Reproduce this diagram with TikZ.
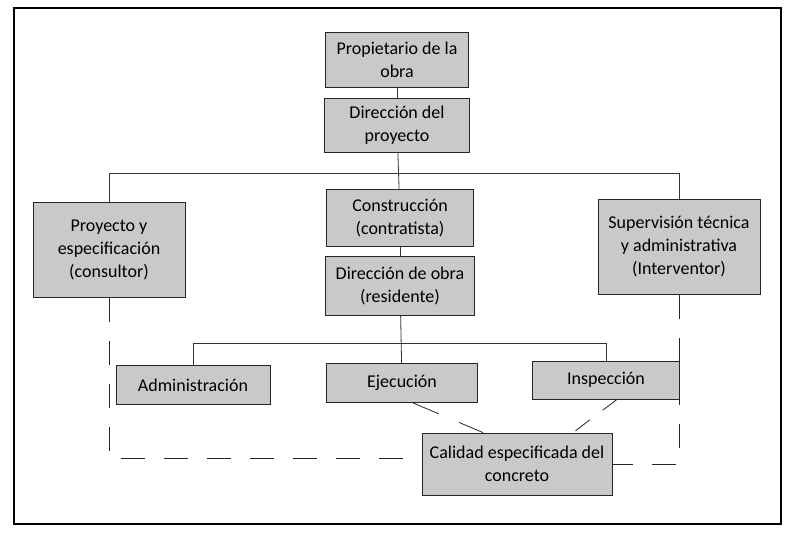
\documentclass[tikz,border=0pt]{standalone}
\usepackage{fontspec}
\setmainfont{Carlito}
\usepackage{tikz}
\colorlet{BoxGray}{gray!42}
\tikzset{
    cargo/.style={draw=black!85, thick, fill=BoxGray, align=center, inner sep=2pt,
        font=\fontsize{18}{23}\selectfont},
    enlace/.style={thick, black!80},
    rayas/.style={thick, black!85, dash pattern=on 24pt off 19pt}
}

\begin{document}
\begin{tikzpicture}[x=1pt,y=-1pt]
                \useasboundingbox (0,0) rectangle (794,533);
                \draw[very thick] (14,8) rectangle (781,524);

                \node[cargo, minimum width=143pt, minimum height=55pt] (prop) at (397,60) {Propietario de la\\obra};
                \node[cargo, minimum width=145pt, minimum height=54pt] (dirp) at (397,125) {Dirección del\\proyecto};
                \node[cargo, minimum width=147pt, minimum height=57pt] (cons) at (400,218) {Construcción\\(contratista)};
                \node[cargo, minimum width=152pt, minimum height=95pt] (proy) at (109,250) {Proyecto y\\especificación\\(consultor)};
                \node[cargo, minimum width=162pt, minimum height=95pt] (superv) at (679,247) {Supervisión técnica\\y administrativa\\(Interventor)};
                \node[cargo, minimum width=149pt, minimum height=59pt] (diro) at (400,286) {Dirección de obra\\(residente)};
                \node[cargo, minimum width=154pt, minimum height=39pt] (admin) at (193,385) {Administración};
                \node[cargo, minimum width=151pt, minimum height=39pt] (ejec) at (402,383) {Ejecución};
                \node[cargo, minimum width=147pt, minimum height=38pt] (insp) at (606,380) {Inspección};
                \node[cargo, minimum width=190pt, minimum height=62pt] (cal) at (517,464) {Calidad especificada del\\concreto};

                \coordinate (bus) at (0,173);
                \coordinate (bus2) at (0,343);

                \draw[enlace] (prop) -- (dirp);
                \draw[enlace] (dirp) -- (cons);
                \draw[enlace] (proy.north) |- (bus -| superv.north) -- (superv.north);
                \draw[enlace] (cons) -- (diro);
                \draw[enlace] (admin.north) |- (bus2 -| insp.north) -- (insp.north);
                \draw[enlace] (diro) -- (ejec);

                \draw[rayas] (proy.south) |- ([yshift=6pt]cal.west);
                \draw[rayas] (superv.south) |- (cal.east);
                \draw[rayas, dash pattern=on 28pt off 22pt] ([xshift=11pt]ejec.south) -- ([xshift=-34pt]cal.north);
                \draw[rayas, dash pattern=on 18pt off 16pt] ([xshift=11pt]insp.south) -- ([xshift=56pt]cal.north);
            \end{tikzpicture}
\end{document}
